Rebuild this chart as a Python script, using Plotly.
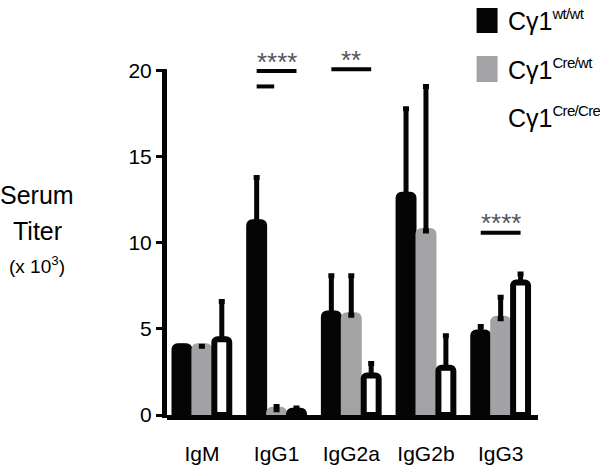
import plotly.graph_objects as go

# ---- data ----
categories = ["IgM", "IgG1", "IgG2a", "IgG2b", "IgG3"]
legend_base = "Cγ1"
legend_sups = ["wt/wt", "Cre/wt", "Cre/Cre"]
wt_wt = [4.0, 11.2, 5.9, 12.8, 4.8]
wt_wt_err = [0.0, 2.6, 2.2, 5.0, 0.35]
cre_wt = [4.0, 0.3, 5.8, 10.7, 5.6]
cre_wt_err = [0.0, 0.2, 2.3, 8.4, 1.25]
cre_cre = [4.4, 0.25, 2.3, 2.75, 7.7]
cre_cre_err = [2.2, 0.15, 0.7, 1.85, 0.5]
y_ticks = [0, 5, 10, 15, 20]

# significance brackets: (category index, start slot, end slot, y value)
sig_lines = [(1, -1, 1, 20.0), (1, -1, -0.12, 19.1), (2, -1, 1, 20.1), (4, -1, 1, 10.6)]
sig_labels = [(1, "****", 20.0), (2, "**", 20.1), (4, "****", 10.6)]

# ---- layout geometry ----
W, H = 600, 469
L, R, T, B = 167, 61.5, 40, 54
PW, PH = W - L - R, H - T - B
Y_MAX = 21.8
SLOT = 0.8 / 3


def pxx(px):
    return (px - L) / PW


def pxy(py):
    return (H - B - py) / PH


BLACK = "#050505"
GREY = "#a3a3a6"

series_names = [f"{legend_base}<sup>{s}</sup>" for s in legend_sups]

fig = go.Figure()
fills = [BLACK, GREY, "white"]
lines = [BLACK, GREY, BLACK]
vals = [wt_wt, cre_wt, cre_cre]
errs = [wt_wt_err, cre_wt_err, cre_cre_err]
for name, v, e, fc, lc in zip(series_names, vals, errs, fills, lines):
    fig.add_trace(go.Bar(
        x=categories, y=v, name=name,
        marker=dict(color=fc, line=dict(color=lc, width=6), cornerradius=3),
        error_y=dict(type="data", array=e, arrayminus=[0] * len(e), symmetric=False,
                     color=BLACK, thickness=5, width=3),
        showlegend=False,
    ))

fig.update_layout(
    width=W, height=H,
    margin=dict(l=L, r=R, t=T, b=B, pad=0, autoexpand=False),
    barmode="group", bargap=0.2, bargroupgap=0.25,
    plot_bgcolor="white", paper_bgcolor="white",
    font=dict(family="Arial, Liberation Sans, sans-serif", color="black"),
    xaxis=dict(range=[-0.467, 4.5], showline=True, linewidth=5, linecolor=BLACK,
               ticks="", showgrid=False, zeroline=False, automargin=False,
               tickfont=dict(size=21), ticklabelstandoff=16),
    yaxis=dict(range=[0, Y_MAX], showline=False, ticks="outside", ticklen=10,
               tickwidth=3, tickcolor=BLACK, tickvals=y_ticks, showgrid=False,
               zeroline=False, automargin=False, tickfont=dict(size=21)),
)

# y axis line (only from 0 to 20)
fig.add_shape(type="line", xref="paper", yref="paper",
              x0=pxx(164.5), x1=pxx(164.5), y0=pxy(418), y1=20.1 / Y_MAX,
              line=dict(color=BLACK, width=5))

# significance lines
for ci, s0, s1, yv in sig_lines:
    fig.add_shape(type="line", xref="x", yref="y",
                  x0=ci + s0 * SLOT, x1=ci + s1 * SLOT, y0=yv, y1=yv,
                  line=dict(color=BLACK, width=4))
for ci, txt, yv in sig_labels:
    fig.add_annotation(x=ci, y=yv - 0.45, xref="x", yref="y", text=txt,
                       showarrow=False, yanchor="bottom",
                       font=dict(size=26, color="#555555"))

# y-axis title
fig.add_annotation(x=pxx(37), y=pxy(195), xref="paper", yref="paper", text="Serum",
                   showarrow=False, font=dict(size=25), xanchor="center", yanchor="middle")
fig.add_annotation(x=pxx(37), y=pxy(231), xref="paper", yref="paper", text="Titer",
                   showarrow=False, font=dict(size=25), xanchor="center", yanchor="middle")
fig.add_annotation(x=pxx(37), y=pxy(265), xref="paper", yref="paper", text="(x 10<sup>3</sup>)",
                   showarrow=False, font=dict(size=19), xanchor="center", yanchor="middle")

# custom legend
sq = [(8, 33), (56, 82), (104, 130)]
for (y0, y1), fc in zip(sq, fills):
    fig.add_shape(type="rect", xref="paper", yref="paper",
                  x0=pxx(477), x1=pxx(498), y0=pxy(y1), y1=pxy(y0),
                  fillcolor=fc, line=dict(width=0))
for (y0, y1), s in zip(sq, legend_sups):
    txt = (f'{legend_base}<sup><span style="font-size:15px;letter-spacing:-0.7px">'
           f'{s}</span></sup>')
    fig.add_annotation(x=pxx(506), y=pxy((y0 + y1) / 2), xref="paper", yref="paper",
                       text=txt, showarrow=False, xanchor="left", yanchor="middle",
                       font=dict(size=25))

fig.write_html("out.html", config={"displayModeBar": False},
               post_script="document.body.style.margin='0';")
